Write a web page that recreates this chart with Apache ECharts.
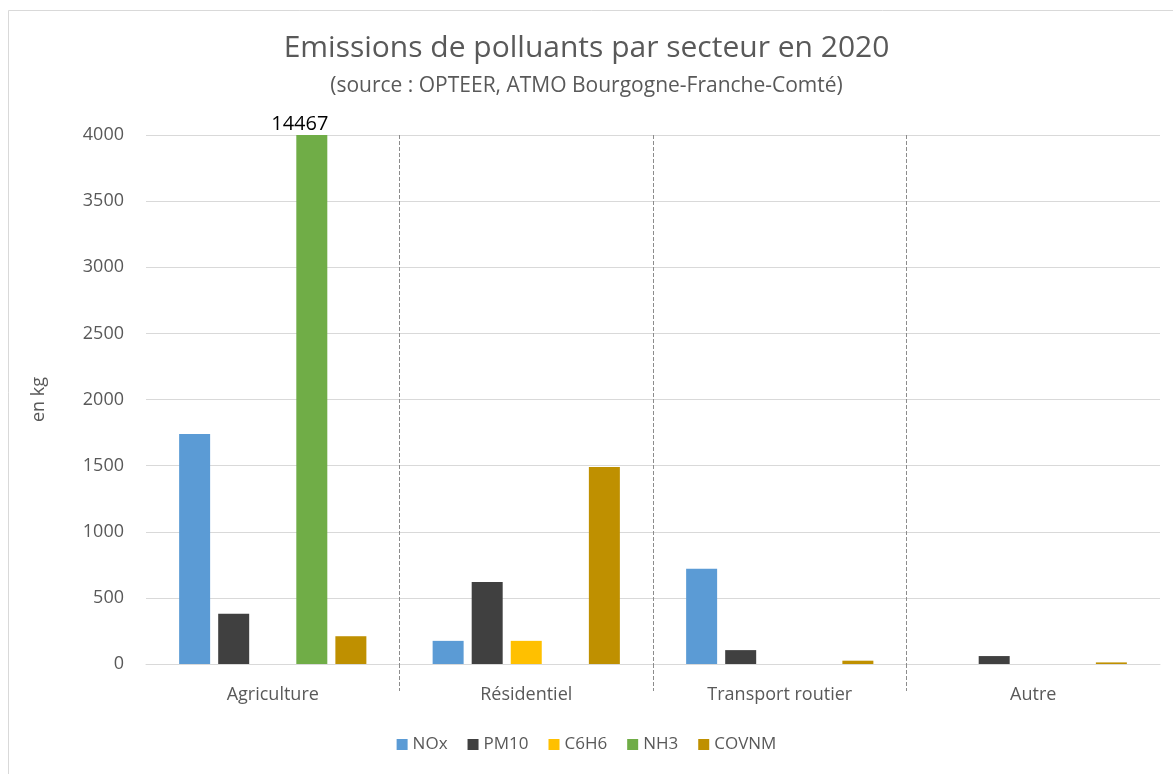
<!DOCTYPE html>
<html>
<head>
<meta charset="utf-8">
<script src="https://cdn.jsdelivr.net/npm/echarts@6/dist/echarts.min.js"></script>
<style>
  html, body { margin: 0; padding: 0; background: #fff; }
  #chart { width: 1173px; height: 774px; }
</style>
</head>
<body>
<div id="chart"></div>
<script>
const sectors = ['Agriculture', 'Résidentiel', 'Transport routier', 'Autre'];
const nox = [1740, 175, 720, 0];
const pm10 = [380, 620, 105, 60];
const c6h6 = [0, 175, 0, 0];
const nh3 = [14467, 0, 0, 0];
const covnm = [210, 1490, 25, 12];
const yTicks = { min: 0, max: 4000, interval: 500 };
// positions of the dashed separators between sectors (in category units)
const separators = [1, 2, 3];

const grey = '#595959';
const font = 'Open Sans';

const chart = echarts.init(document.getElementById('chart'));

const mkSeries = (name, data, color, extra) => Object.assign({
  name: name,
  type: 'bar',
  data: data,
  barWidth: 31,
  barGap: '26%',
  clip: true,
  itemStyle: { color: color }
}, extra || {});

chart.setOption({
  backgroundColor: '#fff',
  animation: false,
  textStyle: { fontFamily: font },
  graphic: [{
    type: 'rect',
    shape: { x: 8.5, y: 10.5, width: 1200, height: 800 },
    style: { fill: 'none', stroke: '#d9d9d9', lineWidth: 1 },
    silent: true
  }],
  title: {
    text: 'Emissions de polluants par secteur en 2020',
    subtext: '(source : OPTEER, ATMO Bourgogne-Franche-Comté)',
    left: 'center',
    top: 28,
    itemGap: 13,
    textStyle: { color: grey, fontSize: 30, fontWeight: 'normal', fontFamily: font },
    subtextStyle: { color: grey, fontSize: 21, fontFamily: font }
  },
  legend: {
    bottom: 16,
    left: 'center',
    itemWidth: 11,
    itemHeight: 11,
    itemGap: 20,
    icon: 'rect',
    textStyle: { color: grey, fontSize: 17, fontFamily: font }
  },
  grid: { left: 146, right: 13, top: 135, bottom: 110 },
  xAxis: [{
    type: 'category',
    data: sectors,
    axisLine: { lineStyle: { color: '#d9d9d9' } },
    axisTick: { show: false },
    axisLabel: { color: grey, fontSize: 18, margin: 22, fontFamily: font },
    splitLine: {
      show: true,
      showMinLine: false,
      showMaxLine: false,
      lineStyle: { color: '#8c8c8c', type: 'dashed' }
    }
  }, {
    type: 'value',
    position: 'bottom',
    min: 0,
    max: sectors.length,
    interval: 1,
    axisLine: { show: false },
    axisLabel: { show: false },
    splitLine: { show: false },
    axisTick: {
      show: true,
      customValues: separators,
      length: 27,
      lineStyle: { color: '#8c8c8c', type: 'dashed' }
    }
  }],
  yAxis: {
    type: 'value',
    min: yTicks.min,
    max: yTicks.max,
    interval: yTicks.interval,
    name: 'en kg',
    nameLocation: 'middle',
    nameGap: 98,
    nameTextStyle: { color: grey, fontSize: 18, fontFamily: font },
    axisLine: { show: false },
    axisTick: { show: false },
    axisLabel: { color: grey, fontSize: 18, margin: 22, fontFamily: font, formatter: v => String(v) },
    splitLine: { lineStyle: { color: '#d9d9d9' } }
  },
  series: [
    mkSeries('NOx', nox, '#5b9bd5'),
    mkSeries('PM10', pm10, '#404040'),
    mkSeries('C6H6', c6h6, '#ffc000'),
    mkSeries('NH3', nh3, '#70ad47', {
      label: {
        show: true,
        position: 'top',
        distance: 1,
        offset: [-12, 0],
        color: '#000',
        fontSize: 20,
        fontFamily: font,
        formatter: p => p.value > yTicks.max ? String(p.value) : ''
      }
    }),
    mkSeries('COVNM', covnm, '#bf9000')
  ]
});
</script>
</body>
</html>
